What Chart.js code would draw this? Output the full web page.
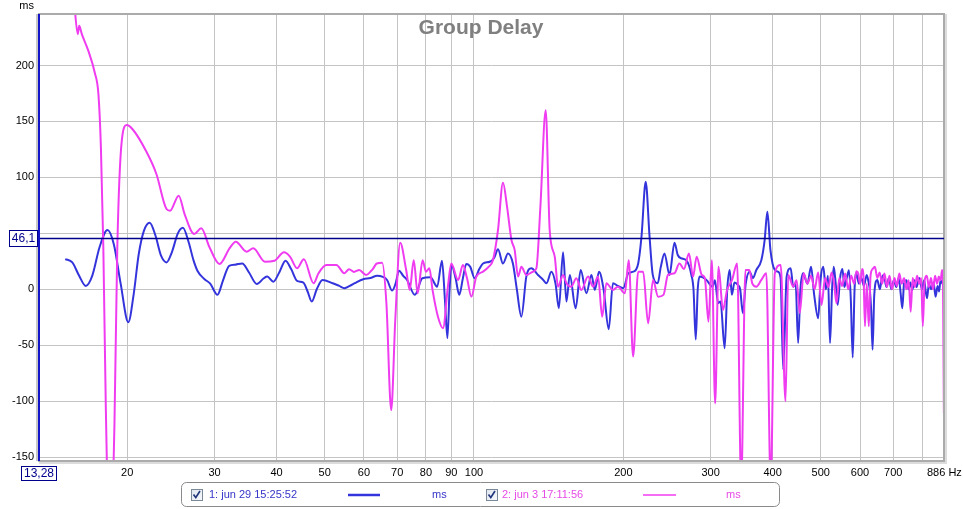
<!DOCTYPE html>
<html>
<head>
<meta charset="utf-8">
<script src="https://cdn.jsdelivr.net/npm/chart.js@4.4.1/dist/chart.umd.min.js"></script>
<style>
  html, body { margin: 0; padding: 0; background: #fff; }
</style>
</head>
<body>
<canvas id="myChart" width="963" height="509"></canvas>
<script>
const freqTicks = [20, 30, 40, 50, 60, 70, 80, 90, 100, 200, 300, 400, 500, 600, 700, 800]
const msTicks = [-150, -100, -50, 0, 50, 100, 150, 200]
const xMin = 13.28
const xMax = 886
const yMin = -153.5
const yMax = 246
const cursorMs = 46.1

const series1Name = '1: jun 29 15:25:52'
const series1Hz = [
    15.0, 15.5, 16.0, 16.5, 17.0, 17.6, 18.25, 18.8, 19.4, 20.1, 20.6, 21.1, 21.6, 22.2, 22.8, 23.4,
    24.0, 24.6, 25.3, 25.9, 26.6, 27.2, 27.7, 28.6, 29.4, 30.4, 31.2, 32.1, 33.0, 34.1, 35.2, 36.5,
    37.7, 38.3, 39.4, 40.5, 41.7, 42.8, 44.0, 45.3, 46.2, 47.1, 48.2, 49.5, 51.9, 53.5, 54.8, 56.2,
    57.5, 59.8, 61.8, 63.8, 65.5, 66.8, 68.4, 69.5, 70.6, 72.0, 73.3, 76.0, 78.7, 81.7, 84.3, 86.2,
    87.4, 88.4, 89.3, 90.1, 91.8, 93.4, 95.0, 96.5, 98.3, 100.3, 102.5, 104.3, 107.6, 109.8, 111.8, 114.4,
    117.1, 119.8, 122.0, 124.6, 127.5, 130.5, 134.6, 137.5, 140, 143.2, 146, 148.3, 151.2, 153.6, 156, 160.3,
    164.1, 168.5, 172.5, 175.2, 178.7, 182.5, 186.9, 190.6, 195, 200, 204.7, 209.5, 214.3, 217.6, 221.9, 225.9,
    229.3, 234.6, 238, 242.1, 247.8, 253.6, 257.5, 261.6, 267.8, 274.3, 277, 279.9, 282.5, 285.1, 294.2, 302.6,
    306, 310.5, 314, 320.1, 324, 327.7, 331, 335, 340.4, 344, 348.3, 353, 359.4, 365, 370.8, 379.5,
    385.4, 390.3, 395.9, 404, 410, 415, 420.1, 426.8, 434.9, 440, 445, 450.2, 455, 460.8, 470, 478,
    485, 494, 500, 506, 512, 517, 522, 527, 531, 536, 541, 547, 553, 558, 564, 570,
    575, 580, 585, 590, 597, 604, 611, 619, 625, 628, 632, 636, 641, 650, 658, 664,
    670, 678, 686, 694, 702, 710, 718, 725, 730, 736, 744, 752, 758, 765, 772, 780,
    790, 800, 808, 814, 819, 826, 834, 844, 852, 860, 866, 872, 880, 886
]
const series1Ms = [
    27, 24, 12, 3, 12, 38, 53, 40, 5, -29.5, -5, 31.5, 52, 59.5, 48, 30,
    24, 33, 50, 55, 42, 26, 16.6, 9.2, 5, -5, 8, 21, 22, 23, 15, 4.7,
    9.8, 11.3, 6.8, 15, 25.5, 18, 7.4, 6, -2, -11, 0, 8.3, 5.4, 3, 1, 3,
    5.4, 9, 10, 12, 11, 8.3, -1.2, 5, 16.6, 12, 8.3, -5, 9.8, 10.7, 2.3, 25.5,
    -10, -43.7, 0, 21.7, 10, -5, 10, 22.6, 20, 9.8, 18, 23, 24.6, 28, 35.7, 23,
    32, 23, 0, -24.5, 11.3, 18.8, 12.8, 9, 5.4, 15.7, 5, -17, 33, -11, 12.8, -17,
    17.2, -3.6, 12.8, -0.6, 15.7, 0, -35.7, 5.4, 3, 1, 14.3, 15.7, 23, 47, 96, 47,
    12.8, 5.4, 20, 32, 12.8, 41.6, 30.6, 27.7, 26, 12.8, 0, -45, 0, 11.3, 8.3, 2.3,
    8, -12.5, -11, -52.7, 0, 17.2, -5, 6, 3.8, 0, -21.4, 5, 15.7, 10, 17.2, 26,
    44, 69.3, 35, 17.2, 15.7, 10, -72, 11.3, 18.8, 2.3, 5, -48, 0, 14.3, 5, 20,
    -5, -26, 10, 20, 0, 12, -48, 0, 20, 5, -14, 10, 18, 2, 10, 17,
    -10, -61, 0, 14, 5, 10, 3, 12.8, 5, -0.6, -20, -54, -5, 8.3, 0, 10,
    12.8, 2, 10, 0, 8, 2, 10, -5, -17, 5, 8, 0, 6, -0.6, 8, 2,
    10, 0, 8, -2, -8, 5, 0, 6, -6.6, 3, -2, 8.3, 5, 8
]

const series2Name = '2: jun 3 17:11:56'
const series2Hz = [
    15.6, 15.9, 16.0, 16.2, 16.7, 17.2, 17.5, 17.7, 17.9, 18.1, 18.3, 18.6, 18.85, 19.1, 19.5, 19.95,
    20.5, 21.8, 22.9, 24.0, 24.4, 25.4, 26.1, 27.3, 28.2, 29.3, 30.7, 32.2, 33.1, 34.8, 35.9, 37.9,
    39.6, 41.4, 42.6, 44.0, 45.4, 47.5, 48.6, 50.4, 52.8, 54.8, 56, 57.3, 58.7, 60.6, 62.5, 63.7,
    65.3, 66.6, 68.1, 69.4, 71.0, 73.0, 74.2, 75.6, 77.0, 78.8, 80.0, 81.3, 82.5, 84.6, 86.6, 88.6,
    90.0, 92.9, 95.0, 96.8, 98.8, 101.1, 104.3, 107, 109.2, 111.8, 114.4, 116.6, 119, 120.8, 122.7, 124.6,
    127.5, 131.5, 133.6, 136.1, 139.5, 142.1, 145.5, 147.7, 151.2, 153.6, 157.1, 160.8, 164.6, 169.8, 173.8, 177.9,
    181.3, 184.9, 190.6, 195.1, 201.4, 205.1, 209.3, 214.3, 219.3, 224.4, 229.6, 235, 241, 246, 253.6, 259.5,
    265, 271.2, 276.5, 281, 287.9, 292, 296.9, 301.6, 306.3, 311.1, 317.6, 323.7, 331.3, 339.2, 345.6, 352.5,
    359, 364, 370.8, 379.5, 388.4, 396.4, 404, 415.2, 424.6, 430, 440, 447, 453.6, 461.9, 470, 478,
    486, 494, 502, 510, 518, 526, 532, 538, 545, 552, 560, 568, 576, 584, 590, 595,
    600, 606, 610, 614, 619, 625, 630, 636, 643, 650, 657, 665, 672, 680, 688, 696,
    704, 712, 720, 728, 736, 744, 752, 759, 766, 774, 782, 790, 797, 803, 810, 818,
    826, 834, 842, 850, 858, 865, 872, 878, 882, 885.5
]
const series2Ms = [
    262, 228, 235.4, 228, 213, 193.7, 174, 127, 37.5, -100, -190, -200, -120, 37.5, 132.7, 146.7,
    143, 124, 103, 71.7, 70.2, 83.6, 67.2, 49.4, 54.5, 37.5, 22.6, 37, 42.5, 33.6, 36.6, 24.6,
    25.5, 33, 29, 18.8, 26.8, 5.4, 14.3, 21.7, 21.7, 14.3, 17.9, 15.5, 17.2, 12.8, 18, 23,
    23.7, -12.5, -108, -27.4, 41.6, 17.2, -0.6, 26, -3.6, 26, 15.7, 18.8, -0.6, -24.5, -34.8, 2.3,
    23, 8.3, 21.7, 10, -6.6, 11.3, 15.7, 20, 26, 53, 95.2, 73.7, 44, 35, 11.3, 20,
    12.8, 15.7, 18.8, 73.7, 160, 53, 29, 2.3, 12.8, 5.4, 2.3, 9.8, -0.6, 11.3, 2.3, 11.3,
    -24.5, 5.4, -0.6, 2.3, -3.6, 26, -60, 15.7, 15.7, -30.4, 8.3, -6.6, -5, 12.8, 14.3, 23,
    18, 32, 11.3, 29, 12.8, 10, -29, 26, -102, 20, -18.5, -0.6, 8.3, 23, -175, 17.2,
    17.2, 5, 2.3, 8.3, 14.3, -175, 14.3, 21.7, -100, 12.8, 2.3, 8, -21.4, 14.3, 5, 12,
    0, 15, -14, 10, 2, 15, 5, -12.5, 10, 3, 14, 0, 12, 5, 16, 14.3,
    5, 18, 10, -33, 5, -33, 12, 18, 20, 10, 15, 5, 14, 2, 12, 0,
    10, 3, 14, 5, 10, 0, 8, -20, 10, 2, 12, 5, 10, -33, 8, 12,
    2, 10, 0, 12, 5, 11.3, 8, 17.2, 5, -110.7
]

const blue = '#3434dc'
const magenta = '#f03cf0'
const font = 'Liberation Sans, Arial, sans-serif'

const toPoints = (hz, ms) => hz.map((f, i) => ({ x: f, y: ms[i] }))

const drawCheckbox = (ctx, x, y) => {
    const g = ctx.createLinearGradient(x, y, x + 11, y + 11)
    g.addColorStop(0, '#dfe6ee')
    g.addColorStop(1, '#f6f8fb')
    ctx.fillStyle = g
    ctx.fillRect(x, y, 11, 11)
    ctx.strokeStyle = '#7a8898'
    ctx.lineWidth = 1
    ctx.strokeRect(x + 0.5, y + 0.5, 11, 11)
    ctx.strokeStyle = '#21347c'
    ctx.lineWidth = 1.6
    ctx.beginPath()
    ctx.moveTo(x + 2.5, y + 5.5)
    ctx.lineTo(x + 4.8, y + 8.5)
    ctx.lineTo(x + 9, y + 2)
    ctx.stroke()
}

const decor = {
    id: 'decor',
    afterDatasetsDraw(chart) {
        const { ctx, chartArea: a, scales } = chart
        ctx.save()
        // frame
        ctx.strokeStyle = '#dcdcdc'
        ctx.lineWidth = 2
        ctx.beginPath()
        ctx.moveTo(a.left, a.bottom + 2)
        ctx.lineTo(a.right + 2, a.bottom + 2)
        ctx.lineTo(a.right + 2, a.top)
        ctx.stroke()
        ctx.strokeStyle = '#ababab'
        ctx.lineWidth = 2
        ctx.strokeRect(a.left, a.top, a.right - a.left, a.bottom - a.top)

        // cursor lines
        const cy = Math.round(scales.y.getPixelForValue(cursorMs)) + 0.5
        ctx.strokeStyle = '#00008a'
        ctx.lineWidth = 1.3
        ctx.beginPath()
        ctx.moveTo(a.left, cy)
        ctx.lineTo(a.right, cy)
        ctx.stroke()
        ctx.strokeStyle = '#c8c8c8'
        ctx.lineWidth = 2
        ctx.beginPath()
        ctx.moveTo(a.left - 2, a.top)
        ctx.lineTo(a.left - 2, a.bottom)
        ctx.stroke()
        ctx.strokeStyle = '#1414c8'
        ctx.lineWidth = 2
        ctx.beginPath()
        ctx.moveTo(a.left, a.top)
        ctx.lineTo(a.left, a.bottom)
        ctx.stroke()

        // title
        ctx.fillStyle = '#808080'
        ctx.font = 'bold 21px ' + font
        ctx.textAlign = 'center'
        ctx.textBaseline = 'alphabetic'
        ctx.fillText('Group Delay', 481, 34)

        // axis units
        ctx.fillStyle = '#000'
        ctx.font = '11px ' + font
        ctx.textAlign = 'right'
        ctx.textBaseline = 'middle'
        ctx.fillText('ms', 34, 6)
        ctx.textAlign = 'left'
        ctx.fillText('886 Hz', 927, 473)

        // cursor value boxes
        ctx.font = '12px ' + font
        ctx.textAlign = 'center'
        ctx.fillStyle = '#fff'
        ctx.fillRect(9.5, cy - 8, 28, 16)
        ctx.strokeStyle = '#00008a'
        ctx.lineWidth = 1
        ctx.strokeRect(9.5, cy - 8, 28, 16)
        ctx.fillStyle = '#00008a'
        ctx.fillText(String(cursorMs).replace('.', ','), 23.5, cy + 0.5)

        ctx.fillStyle = '#fff'
        ctx.fillRect(21.5, 466.5, 35, 14)
        ctx.strokeRect(21.5, 466.5, 35, 14)
        ctx.fillStyle = '#00008a'
        ctx.fillText(String(xMin).replace('.', ','), 39, 474)

        // legend
        ctx.strokeStyle = '#8a8a8a'
        ctx.lineWidth = 1
        ctx.beginPath()
        ctx.roundRect(181.5, 482.5, 598, 24, 5)
        ctx.stroke()
        ctx.font = '11px ' + font
        ctx.textAlign = 'left'
        drawCheckbox(ctx, 191, 489)
        ctx.fillStyle = '#3535c8'
        ctx.fillText(series1Name, 209, 495)
        ctx.fillText('ms', 432, 495)
        ctx.strokeStyle = blue
        ctx.lineWidth = 2.5
        ctx.beginPath()
        ctx.moveTo(348, 495)
        ctx.lineTo(380, 495)
        ctx.stroke()
        drawCheckbox(ctx, 486, 489)
        ctx.fillStyle = '#e64ae6'
        ctx.fillText(series2Name, 502, 495)
        ctx.fillText('ms', 726, 495)
        ctx.strokeStyle = magenta
        ctx.beginPath()
        ctx.moveTo(643, 495)
        ctx.lineTo(676, 495)
        ctx.stroke()
        ctx.restore()
    }
}

const config = {
    type: 'line',
    data: {
        datasets: [
            {
                label: series2Name,
                data: toPoints(series2Hz, series2Ms),
                borderColor: magenta,
                borderWidth: 2,
                pointRadius: 0,
                fill: false,
                cubicInterpolationMode: 'monotone',
            },
            {
                label: series1Name,
                data: toPoints(series1Hz, series1Ms),
                borderColor: blue,
                borderWidth: 2,
                pointRadius: 0,
                fill: false,
                cubicInterpolationMode: 'monotone',
            }
        ]
    },
    options: {
        responsive: false,
        animation: false,
        layout: { padding: { top: 14, right: 19, bottom: 28, left: 0 } },
        scales: {
            x: {
                type: 'logarithmic',
                min: xMin,
                max: xMax,
                afterBuildTicks: (s) => { s.ticks = freqTicks.map(v => ({ value: v })) },
                afterFit: (s) => { s.height = 20; s.paddingLeft = 0; s.paddingRight = 0 },
                grid: { color: '#c4c4c4', drawTicks: false },
                border: { display: false },
                ticks: {
                    autoSkip: false,
                    maxRotation: 0,
                    padding: 5,
                    color: '#000',
                    font: { family: font, size: 11 },
                    callback: (value) => value === 800 ? '' : String(value)
                }
            },
            y: {
                type: 'linear',
                min: yMin,
                max: yMax,
                afterBuildTicks: (s) => { s.ticks = msTicks.map(v => ({ value: v })) },
                afterFit: (s) => { s.width = 39; s.paddingTop = 0; s.paddingBottom = 0 },
                grid: { color: '#c4c4c4', drawTicks: false },
                border: { display: false },
                ticks: {
                    padding: 5,
                    color: '#000',
                    font: { family: font, size: 11 },
                    callback: (value) => value === 50 ? '' : String(value)
                }
            }
        },
        plugins: {
            legend: { display: false },
            tooltip: { enabled: false },
            title: { display: false }
        }
    },
    plugins: [decor]
}

new Chart(document.getElementById('myChart'), config)
</script>
</body>
</html>
